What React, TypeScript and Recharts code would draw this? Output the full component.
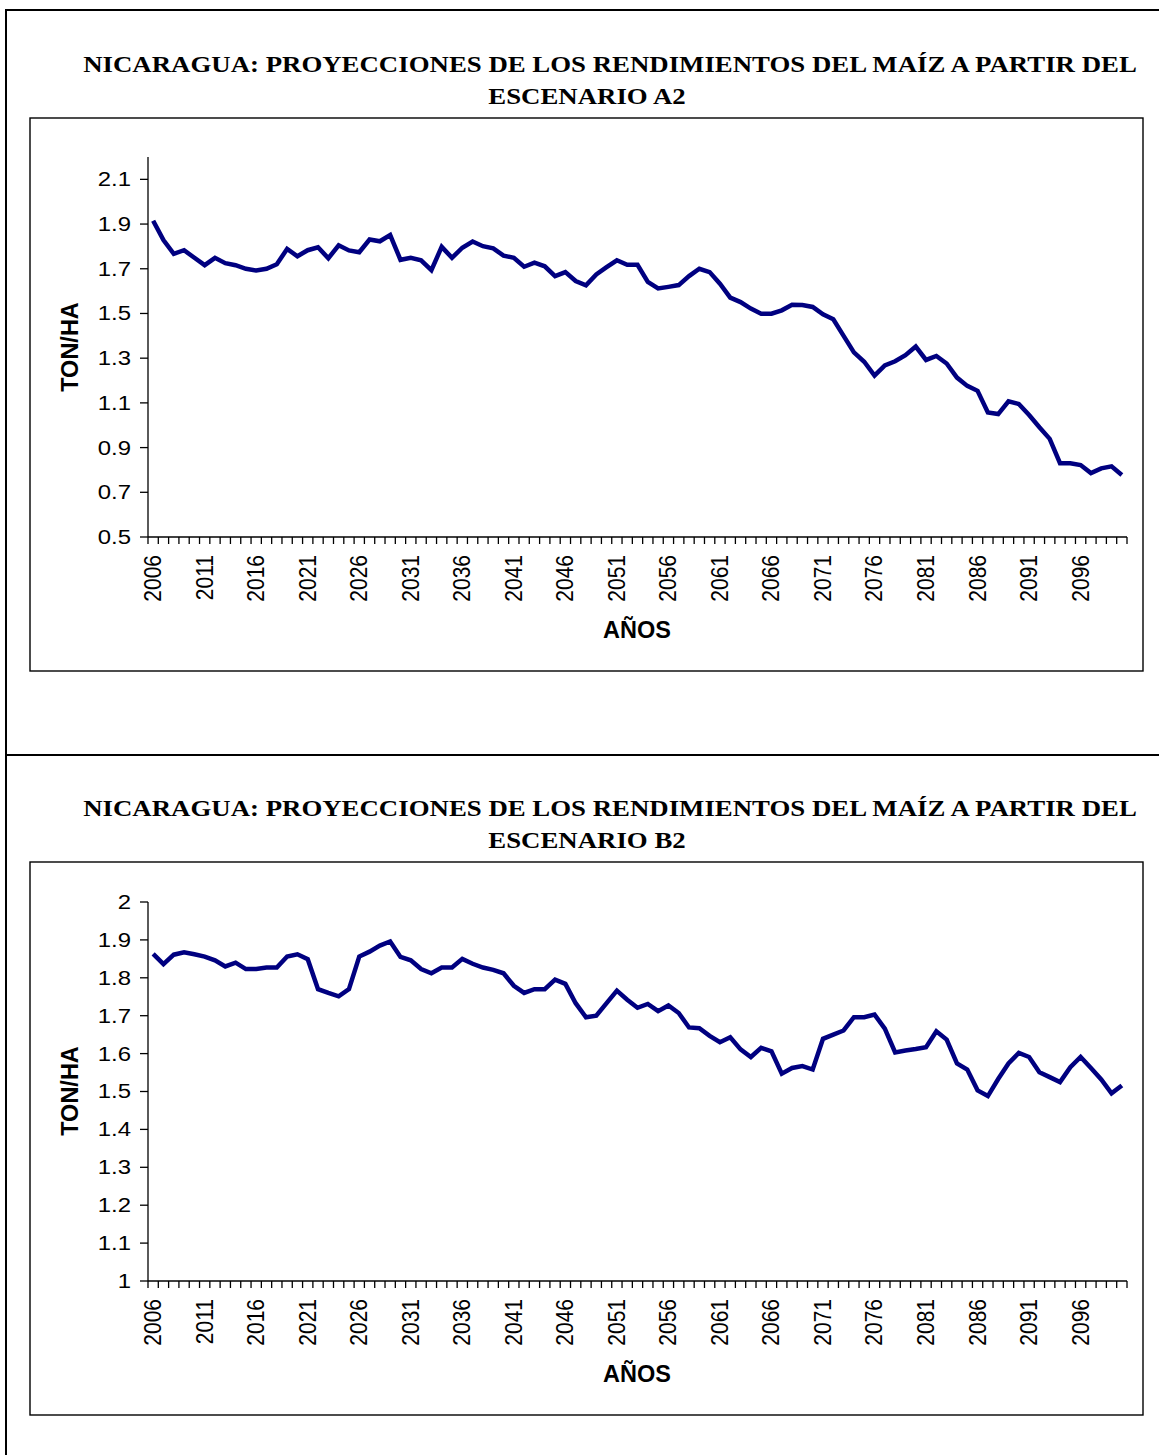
import React from 'react';
import { LineChart, Line, XAxis, YAxis } from 'recharts';

const YEARS = [
  2006, 2007, 2008, 2009, 2010, 2011, 2012, 2013, 2014, 2015,
  2016, 2017, 2018, 2019, 2020, 2021, 2022, 2023, 2024, 2025,
  2026, 2027, 2028, 2029, 2030, 2031, 2032, 2033, 2034, 2035,
  2036, 2037, 2038, 2039, 2040, 2041, 2042, 2043, 2044, 2045,
  2046, 2047, 2048, 2049, 2050, 2051, 2052, 2053, 2054, 2055,
  2056, 2057, 2058, 2059, 2060, 2061, 2062, 2063, 2064, 2065,
  2066, 2067, 2068, 2069, 2070, 2071, 2072, 2073, 2074, 2075,
  2076, 2077, 2078, 2079, 2080, 2081, 2082, 2083, 2084, 2085,
  2086, 2087, 2088, 2089, 2090, 2091, 2092, 2093, 2094, 2095,
  2096, 2097, 2098, 2099, 2100,
];

const A2_VALUES = [
  1.915, 1.828, 1.767, 1.783, 1.749, 1.716, 1.749, 1.725, 1.716, 1.700,
  1.692, 1.700, 1.720, 1.789, 1.756, 1.783, 1.796, 1.747, 1.805, 1.782,
  1.774, 1.831, 1.823, 1.851, 1.740, 1.749, 1.738, 1.694, 1.798, 1.749,
  1.794, 1.822, 1.801, 1.791, 1.759, 1.749, 1.709, 1.727, 1.711, 1.667,
  1.685, 1.645, 1.626, 1.675, 1.707, 1.738, 1.718, 1.718, 1.641, 1.612,
  1.619, 1.627, 1.667, 1.700, 1.685, 1.633, 1.571, 1.551, 1.522, 1.499,
  1.499, 1.514, 1.539, 1.538, 1.529, 1.496, 1.474, 1.400, 1.326, 1.284,
  1.222, 1.268, 1.286, 1.313, 1.352, 1.292, 1.310, 1.276, 1.213, 1.176,
  1.154, 1.057, 1.050, 1.107, 1.095, 1.046, 0.991, 0.939, 0.830, 0.830,
  0.822, 0.786, 0.807, 0.816, 0.777,
];

const B2_VALUES = [
  1.863, 1.836, 1.861, 1.867, 1.862, 1.856, 1.846, 1.830, 1.840, 1.823,
  1.823, 1.827, 1.827, 1.856, 1.862, 1.849, 1.770, 1.760, 1.751, 1.770,
  1.856, 1.869, 1.885, 1.896, 1.855, 1.846, 1.823, 1.812, 1.827, 1.827,
  1.850, 1.837, 1.827, 1.821, 1.812, 1.779, 1.760, 1.770, 1.770, 1.795,
  1.784, 1.733, 1.696, 1.700, 1.733, 1.766, 1.742, 1.721, 1.731, 1.712,
  1.727, 1.707, 1.669, 1.667, 1.647, 1.630, 1.643, 1.611, 1.591, 1.615,
  1.606, 1.547, 1.562, 1.567, 1.558, 1.639, 1.650, 1.661, 1.696, 1.696,
  1.703, 1.666, 1.603, 1.608, 1.612, 1.617, 1.659, 1.637, 1.574, 1.558,
  1.503, 1.488, 1.533, 1.574, 1.602, 1.591, 1.551, 1.538, 1.525, 1.564,
  1.591, 1.562, 1.532, 1.495, 1.516,
];

const LABEL_YEARS = [
  2006, 2011, 2016, 2021, 2026, 2031, 2036, 2041, 2046, 2051,
  2056, 2061, 2066, 2071, 2076, 2081, 2086, 2091, 2096,
];

const A2_Y_TICKS = [0.5, 0.7, 0.9, 1.1, 1.3, 1.5, 1.7, 1.9, 2.1];
const A2_Y_DOMAIN = [0.5, 2.2];
const B2_Y_TICKS = [1, 1.1, 1.2, 1.3, 1.4, 1.5, 1.6, 1.7, 1.8, 1.9, 2];
const B2_Y_DOMAIN = [1, 2];

const TITLE_LINE_1 = 'NICARAGUA: PROYECCIONES DE LOS RENDIMIENTOS DEL MAÍZ A PARTIR DEL';
const A2_TITLE_LINE_2 = 'ESCENARIO A2';
const B2_TITLE_LINE_2 = 'ESCENARIO B2';
const Y_TITLE = 'TON/HA';
const X_TITLE = 'AÑOS';

const LINE_COLOR = '#000080';
const SANS = '"Liberation Sans", Arial, Helvetica, sans-serif';
const SERIF = '"Liberation Serif", "Times New Roman", Times, serif';
const STRETCH = 1.14;

// x positions: category i sits in the middle of its slot [i, i+1]
const BOUNDARY_TICKS = [...YEARS.map((_, i) => i), YEARS.length];
const LABEL_TICKS = LABEL_YEARS.map((y) => YEARS.indexOf(y) + 0.5);
const X_TICKS = [...BOUNDARY_TICKS, ...LABEL_TICKS].sort((a, b) => a - b);

const XTick = (props: any) => {
  const { x, y, payload } = props;
  const v = payload.value;
  if (Number.isInteger(v)) {
    return <line x1={x} y1={y} x2={x} y2={y + 7} stroke="#000" strokeWidth={1.3} />;
  }
  const year = YEARS[Math.round(v - 0.5)];
  const ty = y + 18;
  return (
    <text
      x={0}
      y={0}
      transform={`translate(${x}, ${ty}) scale(${STRETCH}, 1) rotate(-90)`}
      textAnchor="end"
      dominantBaseline="central"
      fontSize={21}
      fontFamily={SANS}
      fill="#000"
    >
      {year}
    </text>
  );
};

const YTick = (props: any) => {
  const { x, y, payload } = props;
  return (
    <text
      x={0}
      y={0}
      transform={`translate(${x}, ${y}) scale(${STRETCH}, 1)`}
      textAnchor="end"
      dominantBaseline="central"
      fontSize={21}
      fontFamily={SANS}
      fill="#000"
    >
      {String(payload.value)}
    </text>
  );
};

type PanelProps = {
  offsetY: number;
  plotTop: number;
  values: number[];
  yDomain: number[];
  yTicks: number[];
};

function ChartPanel({ offsetY, plotTop, values, yDomain, yTicks }: PanelProps) {
  const data = YEARS.map((year, i) => ({ pos: i + 0.5, year, value: values[i] }));
  return (
    <div style={{ position: 'absolute', left: 30, top: 118 + offsetY, width: 1113, height: 553 }}>
      <LineChart
        width={1113}
        height={553}
        data={data}
        margin={{ top: plotTop, right: 16, bottom: 74, left: 0 }}
      >
        <XAxis
          dataKey="pos"
          type="number"
          domain={[0, YEARS.length]}
          ticks={X_TICKS}
          interval={0}
          tickLine={false}
          tickSize={0}
          tickMargin={0}
          height={60}
          axisLine={{ stroke: '#000', strokeWidth: 1.3 }}
          tick={<XTick />}
        />
        <YAxis
          type="number"
          domain={yDomain}
          ticks={yTicks}
          interval={0}
          width={118}
          tickSize={8}
          tickMargin={9}
          axisLine={{ stroke: '#000', strokeWidth: 1.3 }}
          tickLine={{ stroke: '#000', strokeWidth: 1.3 }}
          tick={<YTick />}
        />
        <Line
          type="linear"
          dataKey="value"
          stroke={LINE_COLOR}
          strokeWidth={4.5}
          dot={false}
          activeDot={false}
          isAnimationActive={false}
        />
      </LineChart>
    </div>
  );
}

function StretchText({ x, y, sx, size, family, children }: any) {
  return (
    <text
      x={0}
      y={0}
      transform={`translate(${x}, ${y}) scale(${sx}, 1)`}
      textAnchor="middle"
      fontFamily={family}
      fontWeight="bold"
      fontSize={size}
      fill="#000"
    >
      {children}
    </text>
  );
}

function PanelText({ offsetY, line2 }: { offsetY: number; line2: string }) {
  return (
    <g>
      <StretchText x={610} y={72 + offsetY} sx={1.118} size={24} family={SERIF}>
        {TITLE_LINE_1}
      </StretchText>
      <StretchText x={587} y={104 + offsetY} sx={1.118} size={24} family={SERIF}>
        {line2}
      </StretchText>
      <rect x={30} y={118 + offsetY} width={1113} height={553} fill="#fff" stroke="#000" strokeWidth={1.4} />
      <text
        x={70}
        y={347 + offsetY}
        transform={`rotate(-90, 70, ${347 + offsetY})`}
        textAnchor="middle"
        dominantBaseline="central"
        fontFamily={SANS}
        fontWeight="bold"
        fontSize={23.5}
        fill="#000"
      >
        {Y_TITLE}
      </text>
      <text
        x={637}
        y={630 + offsetY}
        textAnchor="middle"
        dominantBaseline="central"
        fontFamily={SANS}
        fontWeight="bold"
        fontSize={23.5}
        fill="#000"
      >
        {X_TITLE}
      </text>
    </g>
  );
}

export default function App() {
  return (
    <div style={{ position: 'absolute', left: 0, top: 0, width: 1159, height: 1455, background: '#fff', overflow: 'hidden' }}>
      <svg width={1159} height={1455} style={{ position: 'absolute', left: 0, top: 0 }}>
        <line x1={6} y1={10} x2={1159} y2={10} stroke="#000" strokeWidth={2} />
        <line x1={6} y1={9} x2={6} y2={1455} stroke="#000" strokeWidth={2} />
        <line x1={6} y1={755} x2={1159} y2={755} stroke="#000" strokeWidth={2} />
        <PanelText offsetY={0} line2={A2_TITLE_LINE_2} />
        <PanelText offsetY={744} line2={B2_TITLE_LINE_2} />
      </svg>
      <ChartPanel offsetY={0} plotTop={39} values={A2_VALUES} yDomain={A2_Y_DOMAIN} yTicks={A2_Y_TICKS} />
      <ChartPanel offsetY={744} plotTop={40} values={B2_VALUES} yDomain={B2_Y_DOMAIN} yTicks={B2_Y_TICKS} />
    </div>
  );
}
